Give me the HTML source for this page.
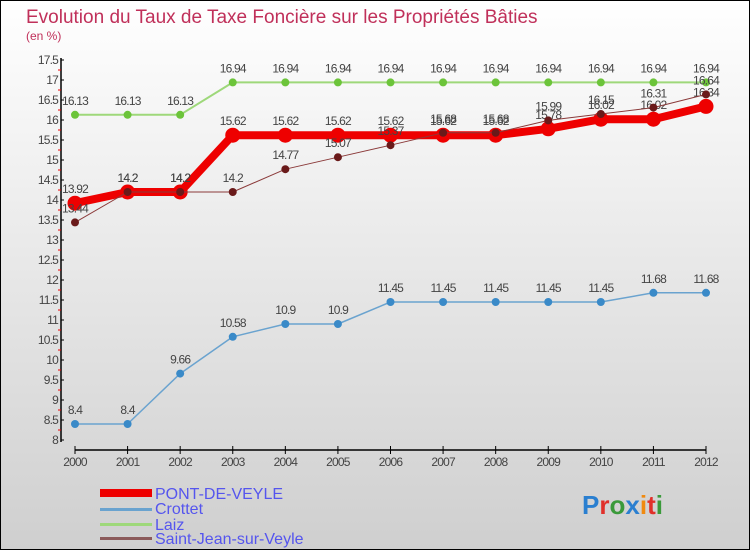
<!DOCTYPE html>
<html><head><meta charset="utf-8"><style>
body{margin:0;width:750px;height:550px;overflow:hidden;font-family:"Liberation Sans",sans-serif}
</style></head><body>
<svg id="c" width="750" height="550" xmlns="http://www.w3.org/2000/svg" font-family="Liberation Sans, sans-serif">
<defs><linearGradient id="bg" x1="0" y1="0" x2="0" y2="1"><stop offset="0" stop-color="#ffffff"/><stop offset="1" stop-color="#cfcfcf"/></linearGradient></defs>
<rect x="0.5" y="0.5" width="749" height="549" fill="url(#bg)" stroke="#000"/>
<text x="26" y="23" font-size="19" fill="#c0305a">Evolution du Taux de Taxe Foncière sur les Propriétés Bâties</text>
<text x="26" y="40" font-size="12" fill="#c0305a">(en %)</text>
<g id="axes"></g><g id="series"></g>
<g>
<rect x="100" y="489" width="52" height="8" fill="#ee0000"/>
<text x="155" y="499" font-size="16" fill="#5555ee">PONT-DE-VEYLE</text>
<rect x="100" y="508" width="52" height="3" fill="#6aa3cf"/>
<text x="155" y="514" font-size="16" fill="#5555ee">Crottet</text>
<rect x="100" y="523" width="52" height="3" fill="#9ed87a"/>
<text x="155" y="530" font-size="16" fill="#5555ee">Laiz</text>
<rect x="100" y="537" width="52" height="3" fill="#8b5a5a"/>
<text x="155" y="544" font-size="16" fill="#5555ee">Saint-Jean-sur-Veyle</text>
</g>
<text x="582" y="514" font-size="26" font-weight="bold"><tspan fill="#2a7fd0">P</tspan><tspan fill="#e0302a">r</tspan><tspan fill="#3a9a3a">o</tspan><tspan fill="#2a7fd0">x</tspan><tspan fill="#f08a10">i</tspan><tspan fill="#e0302a">t</tspan><tspan fill="#3a9a3a">i</tspan></text>
</svg>
<script>
const years=["2000","2001","2002","2003","2004","2005","2006","2007","2008","2009","2010","2011","2012"];
const pont=[13.92,14.2,14.2,15.62,15.62,15.62,15.62,15.62,15.62,15.78,16.02,16.02,16.34];
const crottet=[8.4,8.4,9.66,10.58,10.9,10.9,11.45,11.45,11.45,11.45,11.45,11.68,11.68];
const laiz=[16.13,16.13,16.13,16.94,16.94,16.94,16.94,16.94,16.94,16.94,16.94,16.94,16.94];
const stjean=[13.44,14.2,14.2,14.2,14.77,15.07,15.37,15.68,15.68,15.99,16.15,16.31,16.64];
const yTicks=["8","8.5","9","9.5","10","10.5","11","11.5","12","12.5","13","13.5","14","14.5","15","15.5","16","16.5","17","17.5"];
const NS="http://www.w3.org/2000/svg";
const X=i=>75+i*(706-75)/(years.length-1);
const Y=v=>440-(v-8)*40;
function mk(t,a,p){const e=document.createElementNS(NS,t);for(const k in a)e.setAttribute(k,a[k]);p.appendChild(e);return e;}
const ax=document.getElementById('axes');
let yl=mk('line',{x1:61,y1:58,x2:61,y2:442,stroke:'#000','stroke-width':1.5},ax);


yTicks.forEach((t,i)=>{const v=parseFloat(t),y=Y(v);
 mk('line',{x1:61,y1:y,x2:64,y2:y,stroke:'#000'},ax);
 if(i<yTicks.length-1)mk('line',{x1:58,y1:y-10,x2:61,y2:y-10,stroke:'#e00'},ax);
 const tx=mk('text',{x:58,y:y+4,'font-size':12,'text-anchor':'end',fill:'#444','letter-spacing':'-0.8'},ax);tx.textContent=t;
 
 });
let xl=mk('line',{x1:75,y1:450,x2:706,y2:450,stroke:'#000','stroke-width':1.5},ax);


years.forEach((t,i)=>{const x=X(i);mk('line',{x1:x,y1:446,x2:x,y2:454,stroke:'#000'},ax);
 const tx=mk('text',{x:x,y:466,'font-size':12,'text-anchor':'middle',fill:'#444','letter-spacing':'-0.8'},ax);tx.textContent=t;
 
 });
const sg=document.getElementById('series');
function series(name,data,color,w,r,dot){
 const g=mk('g',{},sg);
 
 
 mk('polyline',{points:data.map((v,i)=>X(i)+','+Y(v)).join(' '),fill:'none',stroke:color,'stroke-width':w,'stroke-linejoin':'round'},g);
 data.forEach((v,i)=>{const c=mk('circle',{cx:X(i),cy:Y(v),r:r,fill:dot},g);
  
  
  const t=mk('text',{x:X(i),y:Y(v)-10,'font-size':12,'text-anchor':'middle',fill:'#444','letter-spacing':'-0.8'},g);t.textContent=v;
  
  });
}
series('crottet',crottet,'#6aa3cf',1.5,4,'#3a8ac8');
series('laiz',laiz,'#9ed87a',2,4,'#6cc43a');
series('pont-de-veyle',pont,'#ee0000',8,7.5,'#ee0000');
series('saint-jean-sur-veyle',stjean,'#8b3a3a',1,4,'#6a1a1a');
</script>
</body></html>
